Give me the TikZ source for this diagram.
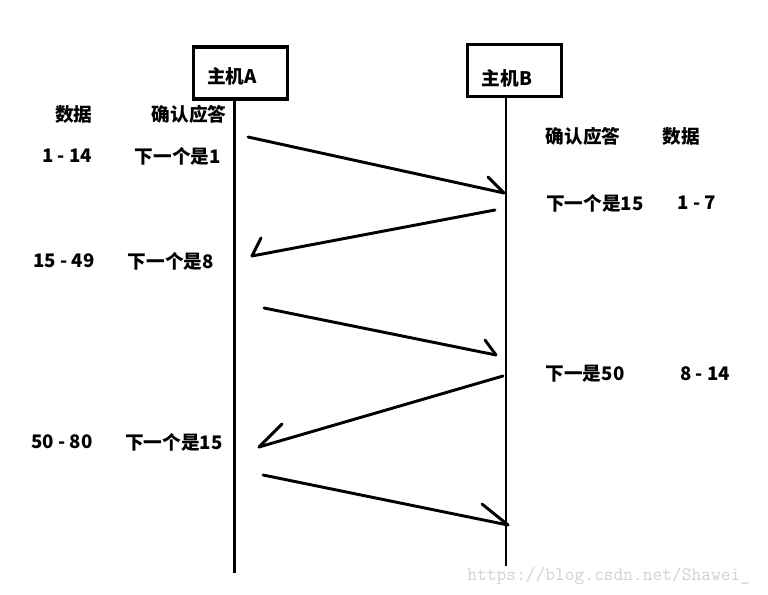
\documentclass[tikz,border=0pt]{standalone}
\usepackage{fontspec}
\setmainfont{Noto Sans CJK SC}
\begin{document}
\begin{tikzpicture}[x=0.75pt,y=-0.75pt,
  hostbox/.style={draw,line width=2.4pt,minimum width=70pt,minimum height=39pt,inner sep=0pt},
  lbl/.style={font=\fontsize{14}{16}\selectfont\bfseries,inner sep=0pt},
  life/.style={line width=2.2pt},
  msg/.style={line width=2.2pt,line cap=round},
  wm/.style={font=\ttfamily\fontsize{14.2}{16}\selectfont,text=black!18,inner sep=0pt}]
\useasboundingbox (0,0) rectangle (768,595);
% hosts
\node[hostbox] (A) at (240.5,73) {};
\node[hostbox] (B) at (514.5,70.5) {};
\node[lbl] (Al) at (232,76) {主机A};
\node[lbl] (Bl) at (507,78) {主机B};
\coordinate (Aend) at (234.5,573);
\coordinate (Bend) at (506,566);
\draw[life] (A.south -| Aend) -- (Aend);
\draw[life] (B.south -| Bend) -- (Bend);
% messages
\coordinate (m1s) at (248,137); \coordinate (m1e) at (504,193); \coordinate (m1b) at (488,177);
\coordinate (m2s) at (495,210); \coordinate (m2e) at (252,256); \coordinate (m2b) at (261,238);
\coordinate (m3s) at (264,308); \coordinate (m3e) at (496,355); \coordinate (m3b) at (485,340);
\coordinate (m4s) at (503,376); \coordinate (m4e) at (259,447); \coordinate (m4b) at (282,424);
\coordinate (m5s) at (263,475); \coordinate (m5e) at (508,525); \coordinate (m5b) at (482,504);
\draw[msg] (m1s) -- (m1e); \draw[msg] (m1b) -- (m1e);
\draw[msg] (m2s) -- (m2e); \draw[msg] (m2b) -- (m2e);
\draw[msg] (m3s) -- (m3e); \draw[msg] (m3b) -- (m3e);
\draw[msg] (m4s) -- (m4e); \draw[msg] (m4b) -- (m4e);
\draw[msg] (m5s) -- (m5e); \draw[msg] (m5b) -- (m5e);
% left labels
\node[lbl] (l1) at (74,114) {数据};
\node[lbl] (l2) at (189,114) {确认应答};
\node[lbl] (l3) at (67,156) {1 - 14};
\node[lbl] (l4) at (178,156) {下一个是1};
\node[lbl] (l5) at (64,261) {15 - 49};
\node[lbl] (l6) at (171,261) {下一个是8};
\node[lbl] (l7) at (62,442) {50 - 80};
\node[lbl] (l8) at (174,442) {下一个是15};
% right labels
\node[lbl] (r1) at (583,136) {确认应答};
\node[lbl] (r2) at (681,136) {数据};
\node[lbl] (r3) at (595,203) {下一个是15};
\node[lbl] (r4) at (697,203) {1 - 7};
\node[lbl] (r5) at (585,374) {下一是50};
\node[lbl] (r6) at (705,374) {8 - 14};
% watermark
\node[wm,anchor=west] (w) at (467,576) {https://blog.csdn.net/Shawei\_};
\end{tikzpicture}
\end{document}
